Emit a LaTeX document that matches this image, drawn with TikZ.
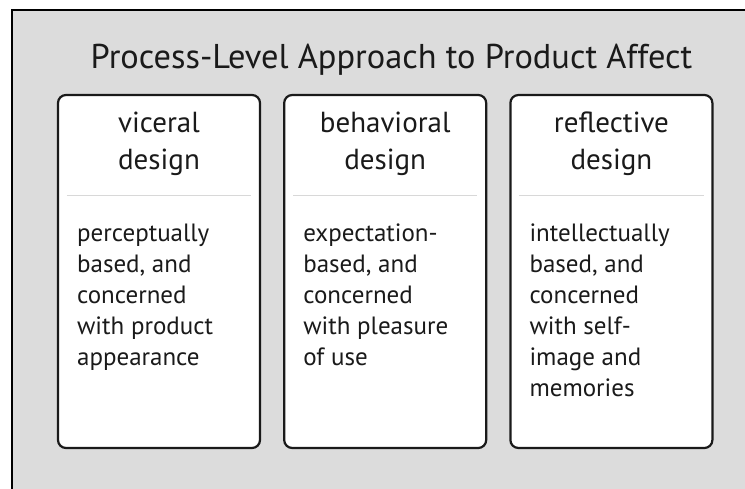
\documentclass[tikz,border=0pt]{standalone}
\usepackage{fontspec}
\setmainfont{PT Sans}
\usetikzlibrary{positioning}
\definecolor{panelgray}{HTML}{DCDCDC}
\definecolor{inkgray}{HTML}{1A1A1A}
\definecolor{rulegray}{HTML}{D8D8D8}
\tikzset{
  card/.style={draw=inkgray, fill=white, line width=2.2pt, rounded corners=8pt, minimum width=202pt, minimum height=353pt, inner sep=0pt},
  headtext/.style={anchor=north, align=center, inner sep=0pt, text=inkgray, font=\fontsize{29}{37}\selectfont},
  bodytext/.style={anchor=north west, align=left, inner sep=0pt, text=inkgray, font=\fontsize{25}{31}\selectfont},
  divider/.style={draw=rulegray, line width=1pt},
}
\begin{document}
\begin{tikzpicture}[x=1pt, y=-1pt]
\useasboundingbox (0,0) rectangle (745,489);
%Background
\fill[panelgray] (12,10) rectangle (745,489);
\draw[line width=2pt] (12,489) -- (12,10) -- (745,10);

%Nodes
\node[anchor=base, text=inkgray, font=\fontsize{34.4}{40}\selectfont] (title) at (391.5,69) {Process-Level Approach to Product Affect};
\node[card] (visceral) at (159,271.5) {};
\node[card, right=22pt of visceral] (behavioral) {};
\node[card, right=22pt of behavioral] (reflective) {};

\node[headtext] (visceralhead) at ([yshift=-18pt]visceral.north) {viceral\\design};
\node[headtext] (behavioralhead) at ([yshift=-18pt]behavioral.north) {behavioral\\design};
\node[headtext] (reflectivehead) at ([yshift=-18pt]reflective.north) {reflective\\design};

\node[bodytext] (visceraltext) at ([xshift=20pt,yshift=-130pt]visceral.north west) {perceptually\\based, and\\concerned\\with product\\appearance};
\node[bodytext] (behavioraltext) at ([xshift=20pt,yshift=-130pt]behavioral.north west) {expectation-\\based, and\\concerned\\with pleasure\\of use};
\node[bodytext] (reflectivetext) at ([xshift=20pt,yshift=-130pt]reflective.north west) {intellectually\\based, and\\concerned\\with self-\\image and\\memories};

%Lines
\foreach \c in {visceral, behavioral, reflective}
  \draw[divider] ([xshift=10pt,yshift=-102pt]\c.north west) -- ([xshift=-10pt,yshift=-102pt]\c.north east);
\end{tikzpicture}
\end{document}
